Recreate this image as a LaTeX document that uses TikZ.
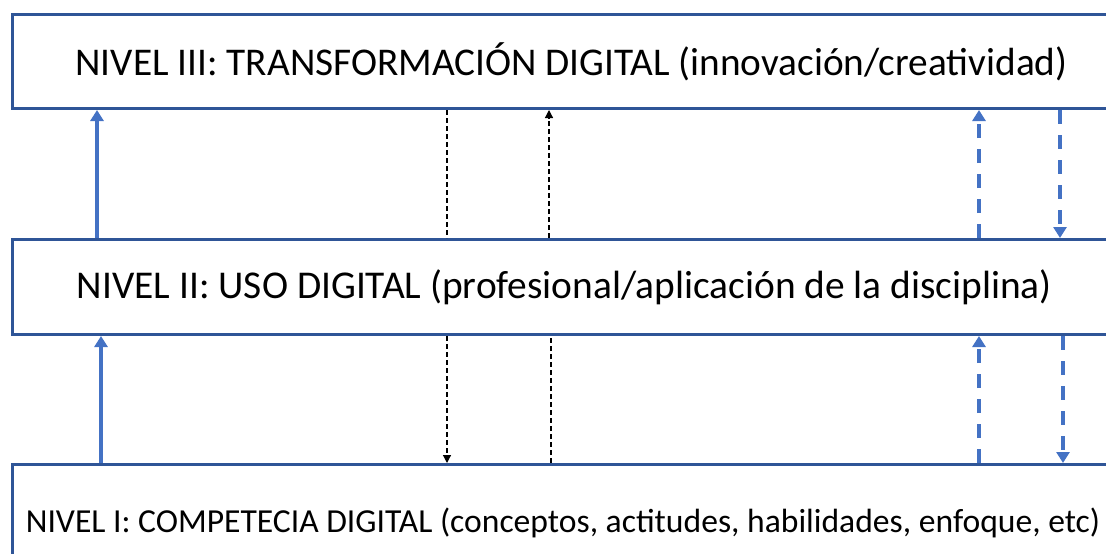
\documentclass[tikz,border=0pt]{standalone}
\usepackage{fontspec}
\setmainfont{Carlito}
\usetikzlibrary{positioning,arrows.meta}
\definecolor{boxblue}{HTML}{2F5597}
\definecolor{arrblue}{HTML}{4472C4}

\begin{document}
\begin{tikzpicture}[x=1pt,y=-1pt,
	nivel/.style={draw=boxblue, line width=3pt, rectangle, minimum width=1118pt, inner sep=0pt, anchor=north west},
	subir/.style={draw=arrblue, line width=3.5pt, -{Triangle[width=13pt,length=11pt]}},
	rayas/.style={draw=arrblue, line width=3.5pt, dash pattern=on 14pt off 11pt, -{Triangle[width=13pt,length=11pt]}},
	puntos/.style={draw=black, line width=1.2pt, dash pattern=on 5pt off 3pt, -{Triangle[width=8pt,length=8pt]}},
	puntosnf/.style={draw=black, line width=1.2pt, dash pattern=on 5pt off 3pt}]
	\useasboundingbox (0,0) rectangle (1106,554);
	\clip (0,0) rectangle (1106,554);
	% niveles
	\node [nivel, minimum height=94pt, font=\fontsize{39.3}{44}\selectfont] (n3) at (11,13) {NIVEL III: TRANSFORMACIÓN DIGITAL (innovación/creatividad)};
	\node [nivel, minimum width=1104pt, minimum height=95pt, font=\fontsize{39.4}{44}\selectfont] (n2) at (11,238) {NIVEL II: USO DIGITAL (profesional/aplicación de la disciplina)};
	\node [nivel, minimum width=1101pt, minimum height=116pt, font=\fontsize{33.6}{38}\selectfont] (n1) at (11,463) {NIVEL I: COMPETECIA DIGITAL (conceptos, actitudes, habilidades, enfoque, etc)};
	% el borde derecho queda fuera
	% columnas
	\coordinate (c1) at (97,0);
	\coordinate (c1b) at (101,0);
	\coordinate (c2) at (447,0);
	\coordinate (c3) at (549,0);
	\coordinate (c3b) at (551,0);
	\coordinate (c4) at (979,0);
	\coordinate (c5) at (1060,0);
	\coordinate (c5b) at (1063,0);
	% entre II y III
	\draw [subir] (n2.north -| c1) -- (n3.south -| c1);
	\draw [puntosnf] (n3.south -| c2) -- (n2.north -| c2);
	\draw [puntos] (n2.north -| c3) -- (n3.south -| c3);
	\draw [rayas] (n2.north -| c4) -- (n3.south -| c4);
	\draw [rayas] (n3.south -| c5) -- (n2.north -| c5);
	% entre I y II
	\draw [subir] (n1.north -| c1b) -- (n2.south -| c1b);
	\draw [puntos] (n2.south -| c2) -- (n1.north -| c2);
	\draw [puntosnf] (n1.north -| c3b) -- (n2.south -| c3b);
	\draw [rayas] (n1.north -| c4) -- (n2.south -| c4);
	\draw [rayas] (n2.south -| c5b) -- (n1.north -| c5b);
\end{tikzpicture}
\end{document}
